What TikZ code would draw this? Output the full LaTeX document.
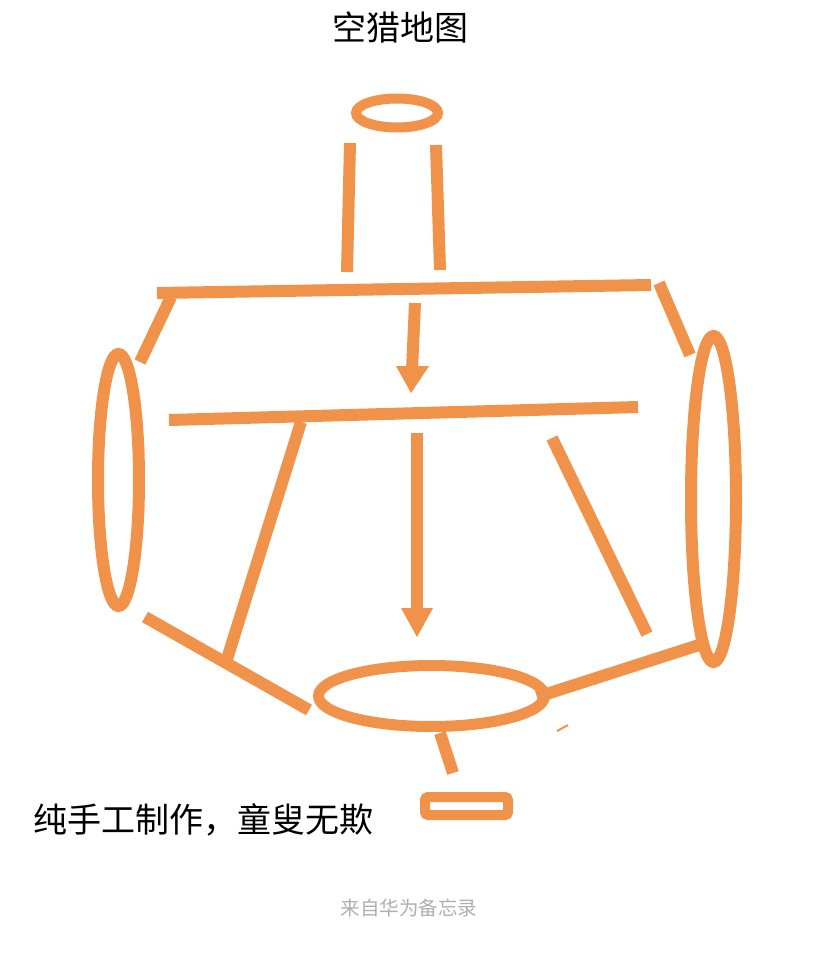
\documentclass[tikz,border=0pt]{standalone}
\usepackage{fontspec}
\newfontfamily\cjk{Noto Sans CJK SC}
\definecolor{og}{RGB}{240,146,74}
\definecolor{foot}{RGB}{175,175,175}
\begin{document}
\begin{tikzpicture}[x=1pt,y=-1pt,
  stroke/.style={draw=og,line width=12pt},
  head/.style={fill=og,draw=none},
  txt/.style={inner sep=0pt,text=black}]
\useasboundingbox[fill=white] (0,0) rectangle (818,960);
% title
\node[txt] (title) at (400,27) {\cjk\fontsize{34}{40}\selectfont 空猎地图};
% top ring
\draw[stroke,line width=10pt] (397,113) ellipse [x radius=41,y radius=14.5];
% neck
\draw[stroke] (350,143) -- (347,272);
\draw[stroke] (436,145) -- (440,270);
% top bar
\draw[stroke] (157,293) -- (651,285);
\draw[stroke] (171,297) -- (140,362);
\draw[stroke] (659,283) -- (690,355);
% side ellipses
\draw[stroke] (118.5,480) ellipse [x radius=20.5,y radius=126];
\draw[stroke] (713.5,499) ellipse [x radius=22.5,y radius=163];
% short arrow
\draw[stroke] (415,303) -- (412,370);
\fill[head] (396,366) -- (429,366) -- (411,393) -- cycle;
% second bar
\draw[stroke] (169,420) -- (638,407);
% long arrow
\draw[stroke] (417,433) -- (417,612);
\fill[head] (401,608) -- (433,608) -- (417,637) -- cycle;
% diagonals
\draw[stroke] (301,422) -- (227,659);
\draw[stroke] (145,617) -- (309,710);
\draw[stroke] (552,438) -- (647,634);
\draw[stroke] (537,697) -- (699,645);
% bottom ellipse
\draw[stroke,line width=11pt] (431.5,696) ellipse [x radius=113,y radius=30.5];
% stem and base
\draw[stroke] (440,733) -- (453,773);
\draw[stroke,line width=10pt,rounded corners=3pt] (425,797) rectangle (508,815);
\draw[og,line width=2pt] (557,731) -- (568,725);
% texts
\node[txt,anchor=west] (motto) at (33,820) {\cjk\fontsize{34}{40}\selectfont 纯手工制作，童叟无欺};
\node[txt,text=foot] (footer) at (409,908) {\cjk\fontsize{19.5}{24}\selectfont 来自华为备忘录};
\end{tikzpicture}
\end{document}
